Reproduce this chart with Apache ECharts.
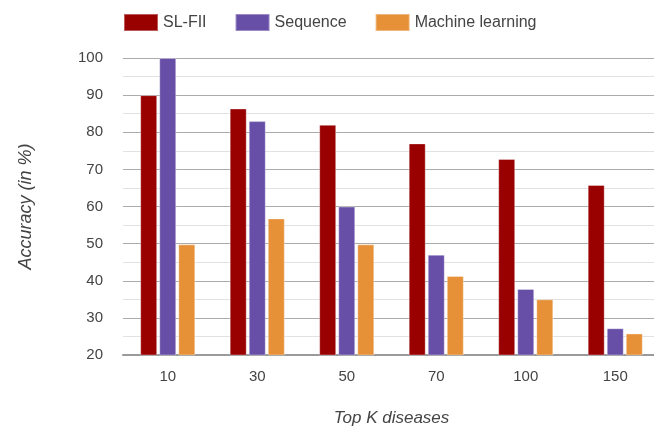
<!DOCTYPE html>
<html>
<head>
<meta charset="utf-8">
<script src="https://cdn.jsdelivr.net/npm/echarts@6/dist/echarts.min.js"></script>
<style>
html,body{margin:0;padding:0;background:#fff;}
#chart{width:654px;height:426px;}
</style>
</head>
<body>
<div id="chart"></div>
<script>
const categories = ['10', '30', '50', '70', '100', '150'];
const slfii = [90, 86.4, 82, 77, 72.8, 65.8];
const sequence = [100, 83, 60, 47, 37.8, 27.2];
const machineLearning = [49.8, 56.8, 49.8, 41.3, 35, 25.8];
const seriesNames = ['SL-FII', 'Sequence', 'Machine learning'];
const colors = ['#990000', '#674EA7', '#E69138'];

const font = 'Liberation Sans, Arial, sans-serif';
const chart = echarts.init(document.getElementById('chart'), null, {renderer: 'canvas'});
const barStyle = (c) => ({color: c, borderColor: 'rgba(255,255,255,0.35)', borderWidth: 1});
chart.setOption({
  animation: false,
  color: colors,
  legend: {
    left: 123, top: 13, padding: 0,
    itemWidth: 34, itemHeight: 17, itemGap: 28,
    icon: 'rect',
    textStyle: {fontFamily: font, fontSize: 16, color: '#444'},
    data: seriesNames
  },
  grid: {left: 123, right: -6, top: 58, bottom: 71, containLabel: false, outerBoundsMode: 'none'},
  xAxis: {
    type: 'category',
    data: categories,
    axisTick: {show: false},
    axisLine: {lineStyle: {color: '#9a9a9a', width: 2}},
    axisLabel: {fontFamily: font, fontSize: 15, color: '#444', margin: 14},
    name: 'Top K diseases',
    nameLocation: 'middle',
    nameGap: 55,
    nameTextStyle: {fontFamily: font, fontSize: 17, fontStyle: 'italic', color: '#444'}
  },
  yAxis: {
    type: 'value',
    min: 20, max: 100, interval: 10,
    axisLine: {show: false},
    axisTick: {show: false},
    axisLabel: {fontFamily: font, fontSize: 15, color: '#444', margin: 20},
    splitLine: {lineStyle: {color: '#ababab', width: 1}},
    minorTick: {show: false, splitNumber: 2},
    minorSplitLine: {show: true, lineStyle: {color: '#e2e2e2', width: 1}},
    name: 'Accuracy (in %)',
    nameLocation: 'middle',
    nameGap: 88,
    nameTextStyle: {fontFamily: font, fontSize: 18, fontStyle: 'italic', color: '#444'}
  },
  series: [
    {name: seriesNames[0], type: 'bar', data: slfii, barWidth: 17, barGap: '12%', itemStyle: barStyle(colors[0])},
    {name: seriesNames[1], type: 'bar', data: sequence, barWidth: 17, barGap: '12%', itemStyle: barStyle(colors[1])},
    {name: seriesNames[2], type: 'bar', data: machineLearning, barWidth: 17, barGap: '12%', itemStyle: barStyle(colors[2])}
  ]
});
</script>
</body>
</html>
